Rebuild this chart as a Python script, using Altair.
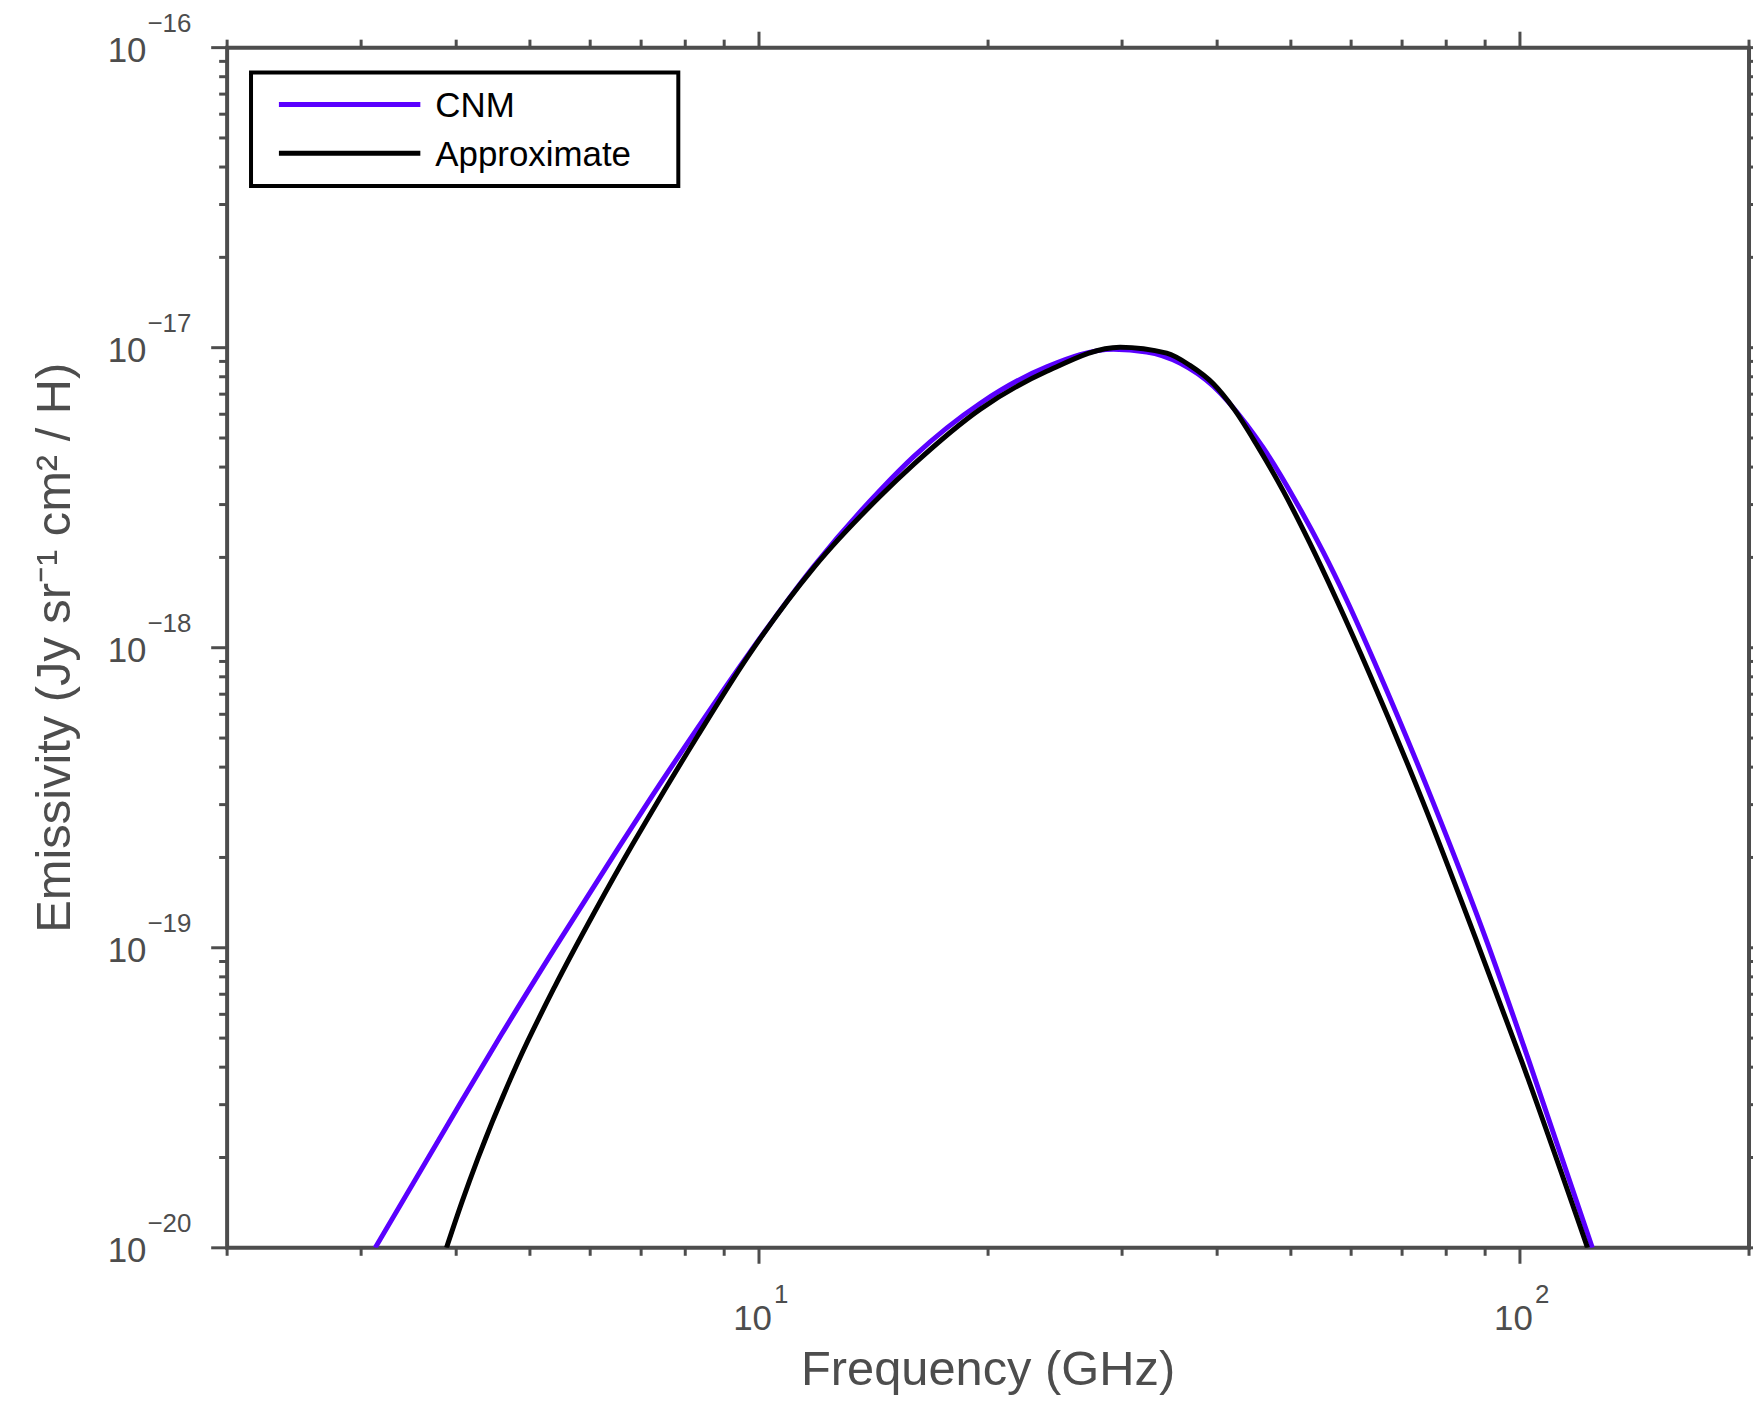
import altair as alt
import pandas as pd

# ---- data ----
cnm_freq = [3.13, 3.905, 4.586, 5.388, 6.523, 7.142, 8.307, 9.658, 11.81, 14.45, 15.98,
            19.54, 23.89, 29.23, 32.32, 35.74, 39.54, 43.72, 45.98, 50.84, 55.11, 59.13,
            65.40, 76.82, 90.70, 102.85, 124.5]
cnm_emis = [1.0e-20, 2.592e-20, 5.137e-20, 9.95e-20, 2.137e-19, 3.048e-19, 5.406e-19,
            9.41e-19, 1.873e-18, 3.363e-18, 4.342e-18, 6.53e-18, 8.63e-18, 9.87e-18,
            9.68e-18, 8.89e-18, 7.44e-18, 5.55e-18, 4.64e-18, 3.05e-18, 2.09e-18,
            1.451e-18, 8.18e-19, 3.07e-19, 1.031e-19, 4.166e-20, 1.0e-20]

app_freq = [3.884, 4.072, 4.273, 4.824, 5.388, 6.080, 6.825, 7.142, 8.307, 9.658, 11.81,
            14.45, 15.98, 19.54, 23.89, 29.82, 34.34, 36.84, 39.54, 42.10, 45.06, 48.85,
            52.92, 57.37, 63.45, 74.54, 87.99, 100.6, 122.7]
app_emis = [1.0e-20, 1.425e-20, 1.99e-20, 4.17e-20, 7.41e-20, 1.316e-19, 2.217e-19,
            2.699e-19, 5.09e-19, 9.31e-19, 1.853e-18, 3.21e-18, 4.09e-18, 6.24e-18,
            8.34e-18, 1.004e-17, 9.59e-18, 8.73e-18, 7.58e-18, 6.24e-18, 4.76e-18,
            3.332e-18, 2.239e-18, 1.451e-18, 8.18e-19, 3.07e-19, 1.031e-19, 4.166e-20,
            1.0e-20]

series_names = ["CNM", "Approximate"]
series_colors = ["#5a00ff", "#000000"]

x_major = [10, 100]
x_major_exp = ["1", "2"]
x_minor = [2, 3, 4, 5, 6, 7, 8, 9, 20, 30, 40, 50, 60, 70, 80, 90, 200]
y_major = [1e-16, 1e-17, 1e-18, 1e-19, 1e-20]
y_major_exp = ["\u221216", "\u221217", "\u221218", "\u221219", "\u221220"]
y_minor = [k * 10.0 ** e for e in range(-20, -16) for k in range(2, 10)]

x_title = "Frequency (GHz)"
y_title = "Emissivity (Jy sr\u207b\u00b9  cm\u00b2  / H)"

# ---- layout ----
W, H = 1528, 1205
GRAY = "#4d4d4d"
FONT = "Liberation Sans"

xs = alt.Scale(type="log", domain=[2, 200], nice=False)
ys = alt.Scale(type="log", domain=[1e-20, 1e-16], nice=False)

cnm_df = pd.DataFrame({"freq": cnm_freq, "emis": cnm_emis})
app_df = pd.DataFrame({"freq": app_freq, "emis": app_emis})

cnm_line = alt.Chart(cnm_df).mark_line(
    color=series_colors[0], strokeWidth=5, interpolate="monotone", clip=True
).encode(
    x=alt.X("freq:Q", scale=xs, axis=None),
    y=alt.Y("emis:Q", scale=ys, axis=None),
)
app_line = alt.Chart(app_df).mark_line(
    color=series_colors[1], strokeWidth=5, interpolate="monotone", clip=True
).encode(
    x=alt.X("freq:Q", scale=xs, axis=None),
    y=alt.Y("emis:Q", scale=ys, axis=None),
)

xmin_df = pd.DataFrame({"v": x_minor})
xmaj_df = pd.DataFrame({"v": x_major, "exp": x_major_exp})
ymin_df = pd.DataFrame({"v": y_minor})
ymaj_df = pd.DataFrame({"v": y_major, "exp": y_major_exp})


def xticks(df, y0, y1):
    return alt.Chart(df).mark_rule(color=GRAY, strokeWidth=3).encode(
        x=alt.X("v:Q", scale=xs, axis=None), y=alt.value(y0), y2=alt.value(y1)
    )


def yticks(df, x0, x1):
    return alt.Chart(df).mark_rule(color=GRAY, strokeWidth=3).encode(
        y=alt.Y("v:Q", scale=ys, axis=None), x=alt.value(x0), x2=alt.value(x1)
    )


ticks = [
    xticks(xmin_df, H, H + 8), xticks(xmaj_df, H, H + 16),
    xticks(xmin_df, 0, -8), xticks(xmaj_df, 0, -16),
    yticks(ymin_df, 0, -8), yticks(ymaj_df, 0, -16),
    yticks(ymin_df, W, W + 8), yticks(ymaj_df, W, W + 16),
]

x_base = alt.Chart(xmaj_df).mark_text(
    text="10", font=FONT, fontSize=35, color=GRAY, align="right", baseline="middle", dx=13
).encode(x=alt.X("v:Q", scale=xs, axis=None), y=alt.value(H + 72))
x_exp = alt.Chart(xmaj_df).mark_text(
    font=FONT, fontSize=26, color=GRAY, align="left", baseline="middle", dx=15
).encode(x=alt.X("v:Q", scale=xs, axis=None), y=alt.value(H + 47), text="exp:N")

y_base = alt.Chart(ymaj_df).mark_text(
    text="10", font=FONT, fontSize=35, color=GRAY, align="right", baseline="middle", dy=3
).encode(y=alt.Y("v:Q", scale=ys, axis=None), x=alt.value(-81))
y_exp = alt.Chart(ymaj_df).mark_text(
    font=FONT, fontSize=26, color=GRAY, align="left", baseline="middle", dy=-24
).encode(y=alt.Y("v:Q", scale=ys, axis=None), x=alt.value(-80), text="exp:N")

xt = alt.Chart(pd.DataFrame({"t": [x_title]})).mark_text(
    font=FONT, fontSize=49, color=GRAY, align="center", baseline="alphabetic"
).encode(x=alt.value(W / 2), y=alt.value(H + 138), text="t:N")
yt = alt.Chart(pd.DataFrame({"t": [y_title]})).mark_text(
    font=FONT, fontSize=49, color=GRAY, align="center", baseline="middle", angle=270
).encode(x=alt.value(-173), y=alt.value(H / 2), text="t:N")

# ---- legend ----
one = pd.DataFrame({"k": [0]})
leg_box = alt.Chart(one).mark_rect(fill="white", stroke="black", strokeWidth=4).encode(
    x=alt.value(24), x2=alt.value(453), y=alt.value(25), y2=alt.value(139)
)
leg_items = []
for name, col, yy in zip(series_names, series_colors, [57, 106]):
    leg_items.append(
        alt.Chart(one).mark_rule(color=col, strokeWidth=5).encode(
            x=alt.value(52), x2=alt.value(194), y=alt.value(yy)
        )
    )
    leg_items.append(
        alt.Chart(pd.DataFrame({"t": [name]})).mark_text(
            font=FONT, fontSize=35, color="black", align="left", baseline="middle"
        ).encode(x=alt.value(209), y=alt.value(yy + 2), text="t:N")
    )

chart = alt.layer(
    cnm_line, app_line, *ticks, x_base, x_exp, y_base, y_exp, xt, yt, leg_box, *leg_items
).properties(
    width=W, height=H,
    padding={"left": 220, "top": 37, "right": 4, "bottom": 150},
    autosize="none",
).configure_view(stroke=GRAY, strokeWidth=4)

chart.save("out.html", embed_options={"renderer": "svg", "actions": False})
